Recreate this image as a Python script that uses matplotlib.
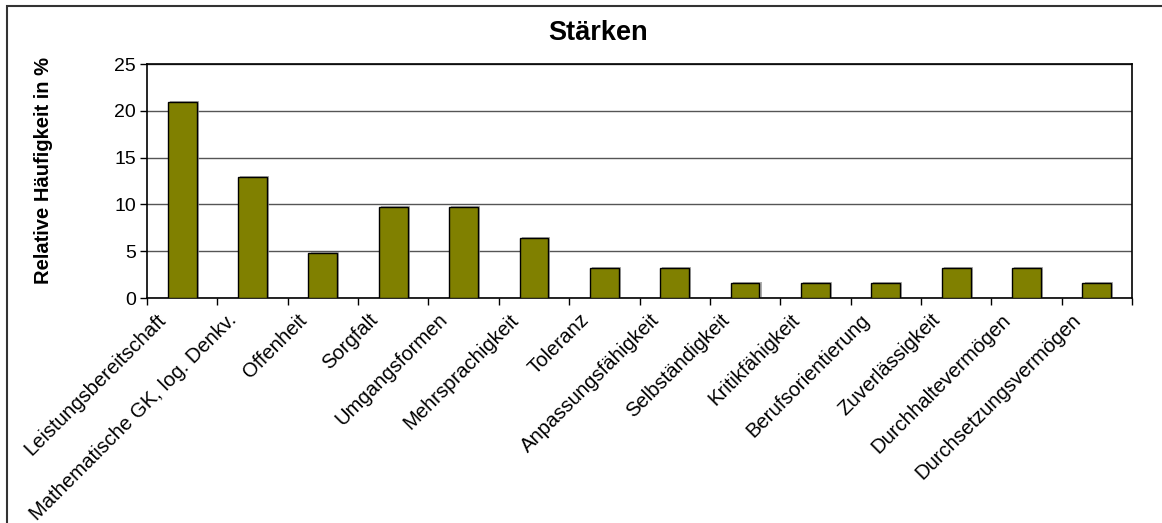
import numpy as np
import matplotlib
matplotlib.use('Agg')
import matplotlib.pyplot as plt
from matplotlib.patches import Rectangle
from matplotlib.transforms import ScaledTranslation
import matplotlib.patheffects as pe

plt.rcParams['font.family'] = ['Liberation Sans', 'DejaVu Sans']

# Stärken der Befragten, relative Häufigkeit in %
kategorien = ['Leistungsbereitschaft', 'Mathematische GK, log. Denkv.', 'Offenheit',
              'Sorgfalt', 'Umgangsformen', 'Mehrsprachigkeit', 'Toleranz',
              'Anpassungsfähigkeit', 'Selbständigkeit', 'Kritikfähigkeit',
              'Berufsorientierung', 'Zuverlässigkeit', 'Durchhaltevermögen',
              'Durchsetzungsvermögen']
werte = [20.97, 12.90, 4.84, 9.68, 9.68, 6.45, 3.23, 3.23, 1.61, 1.61, 1.61, 3.23, 3.23, 1.61]
y_ticks = [0, 5, 10, 15, 20, 25]

fig = plt.figure(figsize=(11.62, 5.23), dpi=100)
ax = fig.add_axes([0.1265, 0.4302, 0.8477, 0.4474])

x = np.arange(len(kategorien))
bars = ax.bar(x, werte, width=0.41, color='#808000', edgecolor='black', linewidth=1.0, zorder=3)
for b in bars:
    b.set_path_effects([pe.SimplePatchShadow(offset=(1.5, 0.8), shadow_rgbFace='#999999', alpha=0.8),
                        pe.Normal()])

ax.set_xlim(-0.5, len(kategorien) - 0.5)
ax.set_ylim(0, 25)
ax.set_yticks(y_ticks)
ax.yaxis.grid(True, color='#555555', linewidth=1.0, zorder=0)
ax.set_axisbelow(True)

# Striche an den Kategoriegrenzen, Beschriftung mittig unter den Balken
ax.set_xticks(np.arange(len(kategorien) + 1) - 0.5)
ax.set_xticklabels([])
ax.set_xticks(x, minor=True)
ax.set_xticklabels(kategorien, minor=True, rotation=45, ha='right', fontsize=14.6)
ax.tick_params(axis='x', which='minor', length=0, pad=3)
ax.tick_params(axis='x', which='major', length=5, width=1, direction='out')
ax.tick_params(axis='y', length=5, width=1, labelsize=14, pad=3)

# Beschriftungen etwas nach links unten schieben
verschiebung = ScaledTranslation(-0.12, -0.08, fig.dpi_scale_trans)
for lbl in ax.get_xticklabels(minor=True):
    lbl.set_transform(lbl.get_transform() + verschiebung)

for s in ax.spines.values():
    s.set_linewidth(1.2)
    s.set_color('black')

ax.set_ylabel('Relative Häufigkeit in %', fontsize=14.5, fontweight='bold')
ax.yaxis.set_label_coords(-0.0955, 0.543)
fig.text(0.5145, 0.936, 'Stärken', ha='center', va='center', fontsize=19.5, fontweight='bold')

# Rahmen um das Diagramm
fig.patches.append(Rectangle((0.006, -0.05), 1.2, 1.0385, transform=fig.transFigure,
                             fill=False, edgecolor='#333333', linewidth=1.5))

fig.savefig('out.png', dpi=100)
